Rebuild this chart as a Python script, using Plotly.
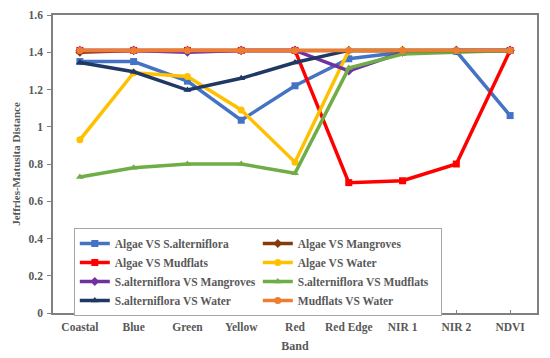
import plotly.graph_objects as go

bands = ["Coastal", "Blue", "Green", "Yellow", "Red", "Red Edge", "NIR 1", "NIR 2", "NDVI"]

algae_s_alt = [1.35, 1.35, 1.245, 1.035, 1.22, 1.365, 1.40, 1.405, 1.06]
algae_mangroves = [1.40, 1.41, 1.41, 1.41, 1.41, 1.41, 1.41, 1.41, 1.41]
algae_mudflats = [1.41, 1.41, 1.41, 1.41, 1.41, 0.70, 0.71, 0.80, 1.41]
algae_water = [0.93, 1.29, 1.27, 1.09, 0.81, 1.41, 1.41, 1.41, 1.41]
s_alt_mangroves = [1.41, 1.41, 1.40, 1.41, 1.41, 1.30, 1.40, 1.41, 1.41]
s_alt_mudflats = [0.73, 0.78, 0.80, 0.80, 0.75, 1.315, 1.39, 1.40, 1.41]
s_alt_water = [1.345, 1.295, 1.197, 1.26, 1.345, 1.41, 1.41, 1.41, 1.41]
mudflats_water = [1.41, 1.41, 1.41, 1.41, 1.41, 1.41, 1.41, 1.41, 1.41]

series = [
    ("Algae VS S.alterniflora", algae_s_alt, "#4472C4", "square"),
    ("Algae VS Mangroves", algae_mangroves, "#843C0C", "diamond"),
    ("Algae VS Mudflats", algae_mudflats, "#FF0000", "square"),
    ("Algae VS Water", algae_water, "#FFC000", "circle"),
    ("S.alterniflora VS Mangroves", s_alt_mangroves, "#7030A0", "diamond"),
    ("S.alterniflora VS Mudflats", s_alt_mudflats, "#70AD47", "triangle-up"),
    ("S.alterniflora VS Water", s_alt_water, "#203864", "triangle-up"),
    ("Mudflats VS Water", mudflats_water, "#ED7D31", "circle"),
]

font_family = "Liberation Serif, Times New Roman, serif"
gray = "#595959"

fig = go.Figure()
for name, vals, color, sym in series:
    fig.add_trace(go.Scatter(
        x=bands, y=vals, name=name, mode="lines+markers",
        line=dict(color=color, width=3.5),
        marker=dict(color=color, size=7, symbol=sym),
    ))

fig.update_layout(
    width=542, height=350,
    margin=dict(l=45, r=13, t=7, b=45, autoexpand=False),
    paper_bgcolor="white", plot_bgcolor="white",
    font=dict(family=font_family, size=12, color=gray),
    showlegend=True,
    legend=dict(
        orientation="h",
        x=0.043, y=0.285, xanchor="left", yanchor="top",
        bgcolor="white", bordercolor="#A6A6A6", borderwidth=1,
        entrywidth=138, entrywidthmode="pixels",
        font=dict(family=font_family, size=11.5, color=gray, weight="bold"),
        itemwidth=30, tracegroupgap=0,
    ),
    xaxis=dict(
        title=dict(text="Band", standoff=9,
                   font=dict(family=font_family, size=12, color=gray, weight="bold")),
        tickfont=dict(family=font_family, size=11.5, color=gray, weight="bold"),
        showline=True, linecolor="#808080", linewidth=1.5, mirror=True,
        ticks="inside", ticklen=3, tickcolor="#808080", ticklabelstandoff=2,
        showgrid=False, range=[-0.5, 8.5], automargin=False,
    ),
    yaxis=dict(
        title=dict(text="Jeffries-Matusita Distance", standoff=6,
                   font=dict(family=font_family, size=11, color=gray, weight="bold")),
        tickfont=dict(family=font_family, size=11.5, color=gray, weight="bold"),
        range=[0, 1.6], dtick=0.2, tickformat="~g",
        showline=True, linecolor="#808080", linewidth=1.5, mirror=True,
        ticks="outside", ticklen=4, tickcolor="#808080", ticklabelstandoff=2,
        showgrid=False, zeroline=False, automargin=False,
    ),
)

fig.write_html("out.html")
